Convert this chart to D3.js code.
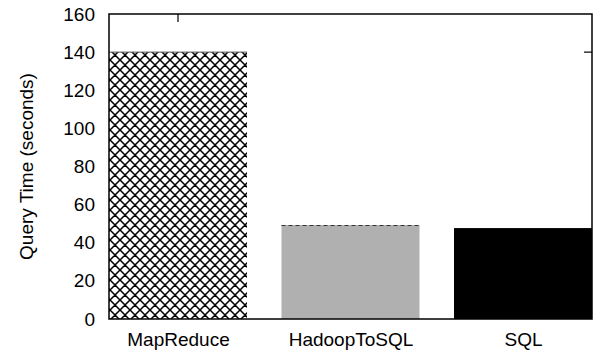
<!DOCTYPE html>
<html>
<head>
<meta charset="utf-8">
<script src="https://cdn.jsdelivr.net/npm/d3@7/dist/d3.min.js"></script>
<style>
  html, body { margin: 0; padding: 0; background: #fff; }
  text { font-family: "Liberation Sans", Arial, sans-serif; }
</style>
</head>
<body>
<div id="chart"></div>
<script>
// Data
const categories = ['MapReduce', 'HadoopToSQL', 'SQL'];
const queryTimes = [140, 49.3, 47.7];
const yTicks = [0, 20, 40, 60, 80, 100, 120, 140, 160];

const width = 594;
const height = 354;
const margin = { top: 14, right: 2, bottom: 35, left: 109 };
const fontSize = 19;

const svg = d3.select('#chart')
  .append('svg')
  .attr('width', width)
  .attr('height', height);

// Crosshatch pattern for MapReduce
const defs = svg.append('defs');
const pat = defs.append('pattern')
  .attr('id', 'cross')
  .attr('patternUnits', 'userSpaceOnUse')
  .attr('width', 10)
  .attr('height', 10);
pat.append('rect').attr('width', 10).attr('height', 10).attr('fill', '#fff');
pat.append('path')
  .attr('d', 'M0,0L10,10M10,0L0,10M-5,5L0,10M5,-5L15,5M-5,5L5,-5M5,15L15,5')
  .attr('stroke', '#000')
  .attr('stroke-width', 1.5);

const x = d3.scaleLinear()
  .domain([-0.4, categories.length - 0.6])
  .range([margin.left, width - margin.right]);

const y = d3.scaleLinear()
  .domain([0, 160])
  .range([height - margin.bottom, margin.top]);

const barW = x(0.4) - x(-0.4);
const fills = ['url(#cross)', '#b0b0b0', '#000'];

// Bars
svg.selectAll('rect.bar')
  .data(queryTimes)
  .enter()
  .append('rect')
  .attr('class', 'bar')
  .attr('x', (d, i) => x(i) - barW / 2)
  .attr('y', d => y(d))
  .attr('width', barW)
  .attr('height', d => y(0) - y(d))
  .attr('fill', (d, i) => fills[i]);

// Top edges of the first two bars
svg.append('line')
  .attr('x1', x(0) - barW / 2).attr('x2', x(0) + barW / 2)
  .attr('y1', y(queryTimes[0])).attr('y2', y(queryTimes[0]))
  .attr('stroke', '#555').attr('stroke-width', 1);

svg.append('line')
  .attr('x1', x(1) - barW / 2).attr('x2', x(1) + barW / 2)
  .attr('y1', y(queryTimes[1]) + 0.5).attr('y2', y(queryTimes[1]) + 0.5)
  .attr('stroke', '#333').attr('stroke-width', 1)
  .attr('stroke-dasharray', '4,3');

// Frame
svg.append('rect')
  .attr('x', margin.left)
  .attr('y', margin.top)
  .attr('width', width - margin.left - margin.right)
  .attr('height', y(0) - margin.top)
  .attr('fill', 'none')
  .attr('stroke', '#000')
  .attr('stroke-width', 1.5);

// Mirror ticks
svg.append('line')
  .attr('x1', x(0)).attr('x2', x(0))
  .attr('y1', margin.top).attr('y2', margin.top + 8)
  .attr('stroke', '#000').attr('stroke-width', 1.2);
svg.append('line')
  .attr('x1', width - margin.right - 8).attr('x2', width - margin.right)
  .attr('y1', y(140)).attr('y2', y(140))
  .attr('stroke', '#000').attr('stroke-width', 1.2);

// Y axis labels
const yAxis = d3.axisLeft(y).tickValues(yTicks).tickSize(0).tickPadding(14);
svg.append('g')
  .attr('transform', `translate(${margin.left}, 0)`)
  .call(yAxis)
  .call(g => g.select('.domain').remove())
  .selectAll('text')
  .attr('font-size', fontSize)
  .attr('fill', '#000');

// X axis labels
const xAxis = d3.axisBottom(x)
  .tickValues(d3.range(categories.length))
  .tickFormat(i => categories[i])
  .tickSize(0)
  .tickPadding(14);
svg.append('g')
  .attr('transform', `translate(0, ${y(0)})`)
  .call(xAxis)
  .call(g => g.select('.domain').remove())
  .selectAll('text')
  .attr('font-size', fontSize)
  .attr('fill', '#000');

// Y title
svg.append('text')
  .attr('transform', `translate(33, ${(margin.top + y(0)) / 2}) rotate(-90)`)
  .attr('text-anchor', 'middle')
  .attr('font-size', fontSize)
  .text('Query Time (seconds)');
</script>
</body>
</html>
